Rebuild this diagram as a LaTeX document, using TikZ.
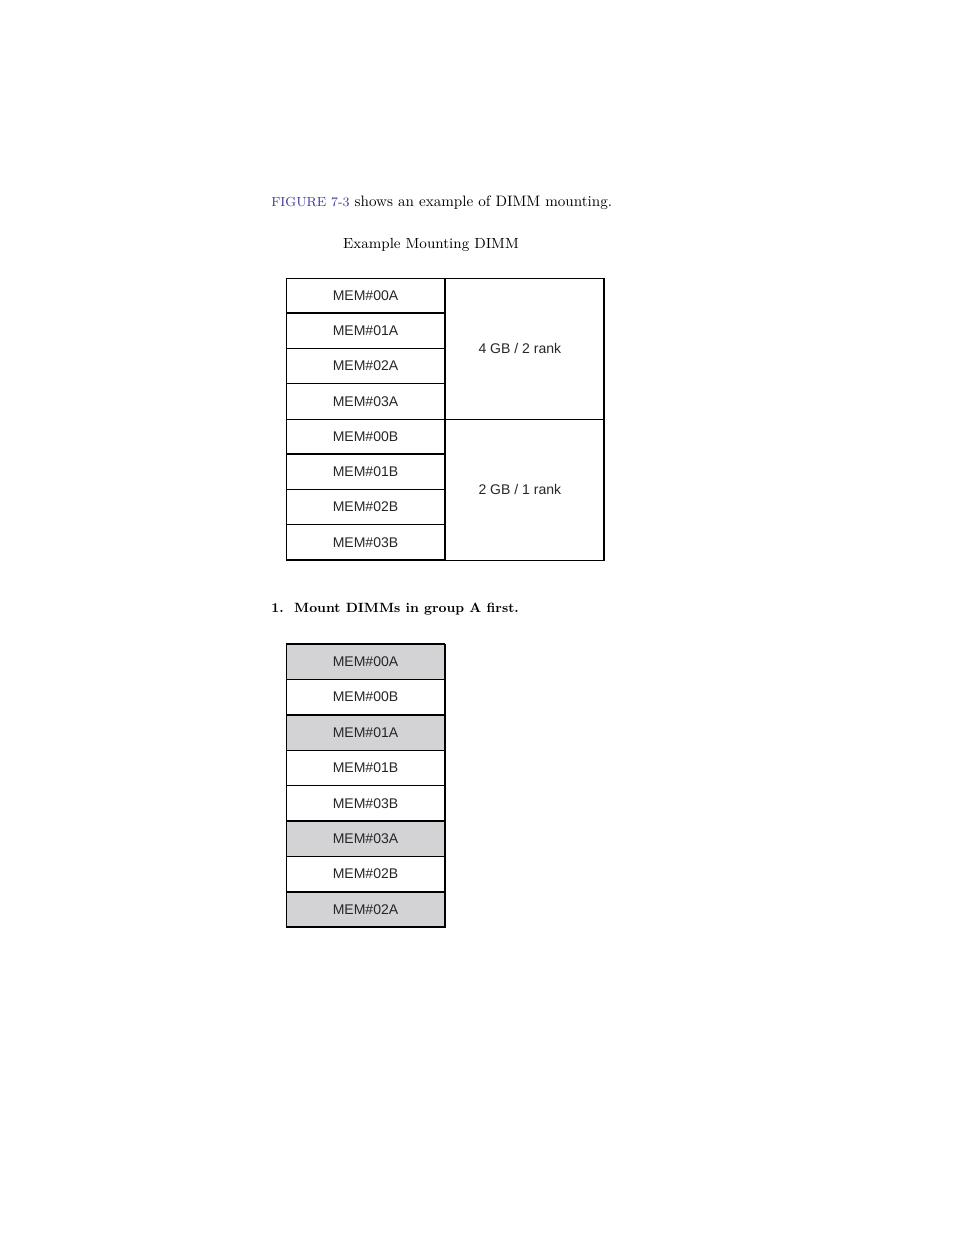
\documentclass[tikz,border=0pt]{standalone}
\usepackage{fontspec}
\newfontfamily\cellfont{Liberation Sans}
\usetikzlibrary{positioning}
\definecolor{linkblue}{RGB}{55,55,160}
\definecolor{cellgray}{RGB}{211,211,213}
\tikzset{
	memcell/.style={draw, line width=0.5pt, minimum width=102pt, minimum height=22.61pt, inner sep=0pt, outer sep=0pt, font=\cellfont\fontsize{9}{10}\selectfont, text=black!85},
	rankcell/.style={memcell, minimum height=90.45pt},
	heavy/.style={line width=1.2pt},
	bodytext/.style={anchor=base west, inner sep=0pt, font=\fontsize{9.7}{12}\selectfont}
}
\begin{document}
\begin{tikzpicture}[x=0.6415pt, y=-0.6415pt]
	\useasboundingbox (0,0) rectangle (954,1235);
	% text lines
	\node[bodytext] (intro) at (271,206) {{\color{linkblue}\fontsize{8.4}{10}\selectfont FIGURE 7-3} shows an example of DIMM mounting.};
	\node[bodytext, anchor=base] (title) at (431,248) {\fontsize{9.4}{12}\selectfont Example Mounting DIMM};
	\node[bodytext] (step1) at (271,612) {\fontsize{8.6}{12}\selectfont\bfseries 1.\ \ Mount DIMMs in group A first.};
	% first table
	\foreach \name [count=\i from 0] in {00A,01A,02A,03A,00B,01B,02B,03B}
		\node[memcell, anchor=north west] (a\name) at (286,{278+35.25*\i}) {MEM\#\name};
	\node[rankcell, anchor=north west] (rankA) at (a00A.north east) {\hspace*{-6pt}4 GB / 2 rank};
	\node[rankcell, anchor=north west] (rankB) at (a00B.north east) {\hspace*{-6pt}2 GB / 1 rank};
	\foreach \name in {00A,01A,00B,03B}
		\draw[heavy] (a\name.south west) -- (a\name.south east);
	\draw[heavy] (a00A.north east) -- (a03B.south east);
	\draw[heavy] (rankA.north east) -- (rankB.south east);
	% second table
	\foreach \name/\fillc [count=\i from 0] in {00A/cellgray,00B/white,01A/cellgray,01B/white,03B/white,03A/cellgray,02B/white,02A/cellgray}
		\node[memcell, fill=\fillc, anchor=north west] (b\name) at (286,{644+35.4*\i}) {MEM\#\name};
	\draw[heavy] (b00A.north west) -- (b00A.north east);
	\foreach \name in {00B,03B,02B,02A}
		\draw[heavy] (b\name.south west) -- (b\name.south east);
	\draw[heavy] (b00A.north east) -- (b02A.south east);
\end{tikzpicture}
\end{document}
